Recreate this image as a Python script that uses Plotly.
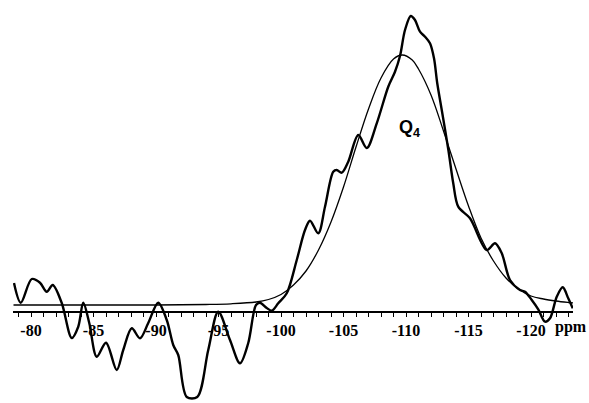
import plotly.graph_objects as go

# 29Si NMR spectrum (chemical shift in ppm, intensity in arbitrary units)
spec_ppm = [-78.64, -79.18, -80.06, -80.72, -81.26, -81.74, -82.46, -83.26, -83.78,
            -84.18, -84.66, -85.26, -86.0, -86.86, -87.38, -88.06, -88.72, -89.38,
            -90.18, -90.86, -91.38, -91.78, -92.46, -93.3, -94.18, -94.98, -95.92,
            -96.72, -97.38, -98.0, -98.32, -98.86, -99.26, -99.78, -100.46, -101.26,
            -101.92, -102.32, -102.98, -103.52, -104.18, -104.46, -104.86, -105.38,
            -106.18, -106.86, -107.66, -108.58, -109.12, -109.52, -109.92, -110.38,
            -110.72, -111.12, -111.52, -111.92, -112.24, -112.5, -112.86, -113.39,
            -113.78, -114.18, -115.12, -116.46, -117.12, -117.66, -118.32, -119.12,
            -119.52, -120.06, -120.58, -121.12, -121.52, -122.06, -122.54, -122.98,
            -123.34]
spec_int = [22, 2.3, 26, 22.3, 13.3, 20, 2, -33, -21.7,
            2.3, -18, -51.7, -37.7, -65, -45, -23.3, -33.3, -18,
            2.3, -15, -40, -50, -92, -92, -45, -6.7, -35,
            -58.3, -38, 0, 2.3, -3, -5.7, 1.7, 11.7, 45,
            75, 84.3, 71.7, 98.3, 133.3, 135, 132.3, 143.3,
            170, 157, 181.7, 218.3, 233.3, 249, 275, 289,
            285, 273.3, 268.3, 261.7, 246.7, 221.7, 195, 155,
            121.7, 98.3, 86.7, 55, 61.7, 51.7, 25, 15,
            13.3, 5, -4.3, -16.7, -13.3, 8.3, 17.7, 6.7,
            -3.3]

# Q4 fitted component
fit_ppm = [-78.6, -90.0, -94.0, -96.0, -98.0, -99.0, -100.0, -101.0, -102.0, -103.0,
           -104.0, -105.0, -106.0, -107.0, -108.0, -109.0, -109.7, -110.5, -111.0,
           -112.0, -113.0, -114.0, -115.0, -116.0, -117.0, -118.0, -119.0, -120.0,
           -121.0, -122.0, -123.0, -123.4]
fit_int = [0, 0, 0.5, 1.2, 3, 5.5, 10.5, 20, 34, 55,
           83, 118, 158, 196, 227, 246, 250, 245, 236,
           210, 174, 136, 99, 67, 44, 27, 16, 9,
           6, 4, 2.5, 2]

major_ticks = [-80, -85, -90, -95, -100, -105, -110, -115, -120]
major_labels = ["-80", "-85", "-90", "-95", "-100", "-105", "-110", "-115", "-120"]
minor_ticks = [v for v in range(-79, -124, -1) if v % 5 != 0]

fig = go.Figure()
fig.add_trace(go.Scatter(x=fit_ppm, y=fit_int, mode="lines",
                         line=dict(color="black", width=1.3, shape="spline", smoothing=1.0),
                         hoverinfo="skip"))
fig.add_trace(go.Scatter(x=spec_ppm, y=spec_int, mode="lines",
                         line=dict(color="black", width=2.4, shape="spline", smoothing=0.9),
                         hoverinfo="skip"))

fig.add_annotation(x=-110.3, y=177, text="<b>Q<sub>4</sub></b>", showarrow=False,
                   font=dict(family="Liberation Sans", size=18, color="black"),
                   xanchor="center", yanchor="middle")
fig.add_annotation(x=571 / 589, y=(403 - 327) / 403, xref="paper", yref="paper",
                   text="ppm", showarrow=False, xanchor="center", yanchor="middle",
                   font=dict(family="Liberation Serif", size=16, color="black", weight="bold"))

fig.update_layout(
    width=589, height=403,
    margin=dict(l=0, r=0, t=0, b=0),
    paper_bgcolor="white", plot_bgcolor="white",
    showlegend=False,
    xaxis=dict(domain=[13 / 589, 573 / 589], range=[-78.56, -123.36],
               anchor="free", position=(403 - 312) / 403,
               showline=True, linecolor="black", linewidth=1.5,
               ticks="outside", ticklen=4, tickwidth=1.2, tickcolor="black",
               tickmode="array", tickvals=major_ticks, ticktext=major_labels,
               tickfont=dict(family="Liberation Serif", size=16, color="black", weight="bold"),
               minor=dict(tickmode="array", tickvals=minor_ticks, ticks="outside",
                          ticklen=4, tickwidth=1.2, tickcolor="black", showgrid=False),
               showgrid=False, zeroline=False),
    yaxis=dict(range=[-98, 305], visible=False, showgrid=False, zeroline=False),
)

fig.write_html("out.html")
